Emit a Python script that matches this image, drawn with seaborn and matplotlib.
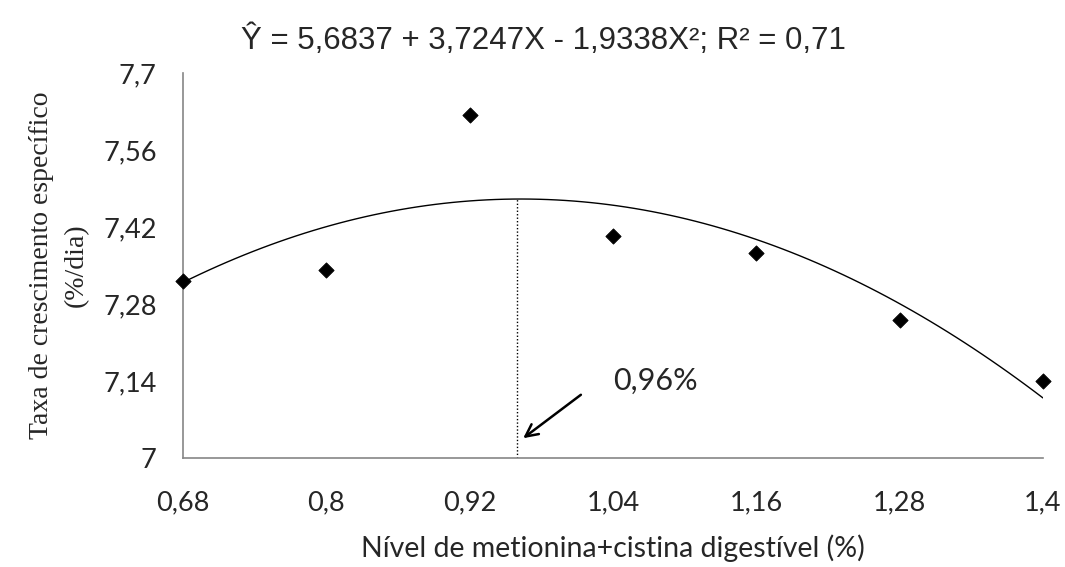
import numpy as np
import pandas as pd
import matplotlib.pyplot as plt
import seaborn as sns

# niveis de met+cis digestivel (%) e taxa de crescimento especifico (%/dia)
nivel = [0.68, 0.80, 0.92, 1.04, 1.16, 1.28, 1.40]
taxa = [7.322, 7.342, 7.624, 7.403, 7.372, 7.251, 7.140]
y_ticks = [7.0, 7.14, 7.28, 7.42, 7.56, 7.70]
otimo = 0.96

df = pd.DataFrame({'nivel': nivel, 'taxa': taxa})

sns.set_style('white')
plt.rcParams['font.family'] = ['Lato', 'DejaVu Sans']

fig = plt.figure(figsize=(10.65, 5.67), dpi=100)
ax = fig.add_axes([0.1718, 0.1922, 0.8075, 0.6791])

# curva quadratica ajustada
sns.regplot(x='nivel', y='taxa', data=df, order=2, ci=None, scatter=False,
            truncate=True, line_kws={'color': 'black', 'lw': 1.0}, ax=ax)
sns.scatterplot(x='nivel', y='taxa', data=df, marker='D', s=60,
                color='black', edgecolor='black', ax=ax, zorder=3, clip_on=False)

# linha pontilhada no ponto otimo
coef = np.polyfit(nivel, taxa, 2)
ax.plot([otimo, otimo], [7.0, np.polyval(coef, otimo)], color='black',
        lw=1.0, linestyle=(0, (1, 1.5)))
ax.annotate('', xy=(0.963, 7.033), xytext=(1.015, 7.118),
            arrowprops=dict(arrowstyle='->', color='black', lw=1.8,
                            mutation_scale=22))
ax.text(1.04, 7.14, '0,96%', fontsize=22, va='center', ha='left')

ax.set_xlim(0.68, 1.40)
ax.set_ylim(7.0, 7.7)
ax.set_xticks(nivel)
ax.set_xticklabels([f'{v:g}'.replace('.', ',') for v in nivel], fontsize=19.5)
ax.set_yticks(y_ticks)
ax.set_yticklabels([f'{v:g}'.replace('.', ',') for v in y_ticks], fontsize=19.5)

for s in ['top', 'right']:
    ax.spines[s].set_visible(False)
for s in ['left', 'bottom']:
    ax.spines[s].set_color('#868686')
    ax.spines[s].set_linewidth(1.2)
ax.tick_params(axis='both', direction='out', length=8, width=1.2,
               color='#868686', pad=11)
ax.tick_params(axis='x', pad=15)

ax.set_xlabel('Nível de metionina+cistina digestível (%)', fontsize=20.5,
              labelpad=14)
ax.set_ylabel('Taxa de crescimento específico\n(%/dia)', fontsize=20,
              family=['Liberation Serif'], labelpad=10, linespacing=1.55)
fig.text(0.51, 1 - 40 / 567, 'Ŷ = 5,6837 + 3,7247X - 1,9338X²; R² = 0,71',
         fontsize=22.5, family=['Liberation Sans', 'DejaVu Sans'],
         ha='center', va='center')

fig.savefig('out.png', dpi=100)
